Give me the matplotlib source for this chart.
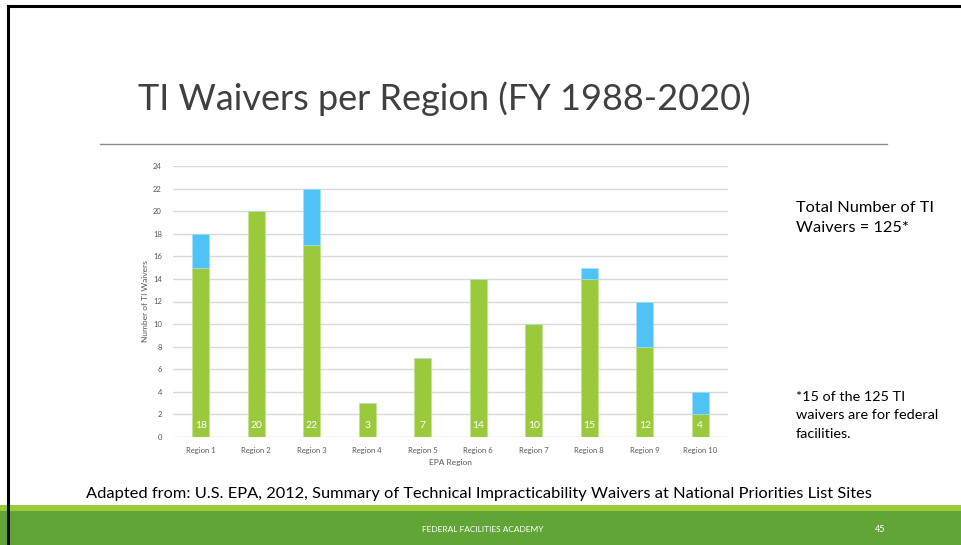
import matplotlib.pyplot as plt
from matplotlib.patches import Rectangle
from matplotlib.lines import Line2D

regions = ["Region 1", "Region 2", "Region 3", "Region 4", "Region 5",
           "Region 6", "Region 7", "Region 8", "Region 9", "Region 10"]
non_federal = [15, 20, 17, 3, 7, 14, 10, 14, 8, 2]
federal = [3, 0, 5, 0, 0, 0, 0, 1, 4, 2]
totals = [a + b for a, b in zip(non_federal, federal)]
y_ticks = list(range(0, 25, 2))

plt.rcParams['font.family'] = ['Lato', 'DejaVu Sans']

fig = plt.figure(figsize=(9.61, 5.45), dpi=100)
W, H = 961, 545


def fx(px):
    return px / W


def fy(py):
    return 1 - py / H


# slide frame and footer band
fig.add_artist(Line2D([fx(8), fx(8)], [0, fy(6)], color="black", lw=2.2))
fig.add_artist(Line2D([fx(8), 1], [fy(6), fy(6)], color="black", lw=2.2))
fig.add_artist(Rectangle((0, 0), 1, fy(511), color="#62A537", lw=0))
fig.add_artist(Rectangle((0, fy(511)), 1, fy(505) - fy(511), color="#9BCB3B", lw=0))

fig.text(fx(138), fy(99), "TI Waivers per Region (FY 1988-2020)", fontsize=26,
         color="#404040", va="center", ha="left")
fig.add_artist(Line2D([fx(100), fx(887)], [fy(144), fy(144)], color="#8C8C8C", lw=1))

ax = fig.add_axes([fx(173), fy(437), fx(728) - fx(173), fy(166) - fy(437)])
x = list(range(len(regions)))
ax.bar(x, non_federal, width=0.31, color="#9ACA3C", edgecolor="#C5E28A", linewidth=0.4, zorder=3)
ax.bar(x, federal, width=0.31, bottom=non_federal, color="#4FC3F7", edgecolor="#A6E0FB",
       linewidth=0.4, zorder=3)
for xi, t in zip(x, totals):
    ax.text(xi, 1.0, str(t), ha="center", va="center", color="white", fontsize=7.5, zorder=4)

ax.set_xlim(-0.5, len(regions) - 0.5)
ax.set_ylim(0, 24)
ax.set_yticks(y_ticks)
ax.set_xticks(x)
ax.set_xticklabels(regions)
ax.tick_params(axis="both", length=0, labelsize=5.5, labelcolor="#595959")
ax.tick_params(axis="y", pad=8)
ax.tick_params(axis="x", pad=7)
ax.grid(axis="y", color="#D9D9D9", lw=1, zorder=0)
for s in ax.spines.values():
    s.set_visible(False)
ax.set_ylabel("Number of TI Waivers", fontsize=6, color="#595959", labelpad=3)
ax.set_xlabel("EPA Region", fontsize=6, color="#595959", labelpad=4)

fig.text(fx(796), fy(208), "Total Number of TI", fontsize=11.8, color="black", va="center")
fig.text(fx(796), fy(228), "Waivers = 125*", fontsize=11.8, color="black", va="center")
fig.text(fx(796), fy(397), "*15 of the 125 TI", fontsize=10.4, color="black", va="center")
fig.text(fx(796), fy(415), "waivers are for federal", fontsize=10.4, color="black", va="center")
fig.text(fx(796), fy(434), "facilities.", fontsize=10.4, color="black", va="center")

fig.text(fx(86), fy(494), "Adapted from: U.S. EPA, 2012, Summary of Technical Impracticability "
         "Waivers at National Priorities List Sites", fontsize=11.8, color="black", va="center")
fig.text(fx(483), fy(529), "FEDERAL FACILITIES ACADEMY", fontsize=6, color="white",
         ha="center", va="center")
fig.text(fx(880), fy(529), "45", fontsize=6.5, color="white", ha="center", va="center")

fig.savefig("out.png", dpi=100)
